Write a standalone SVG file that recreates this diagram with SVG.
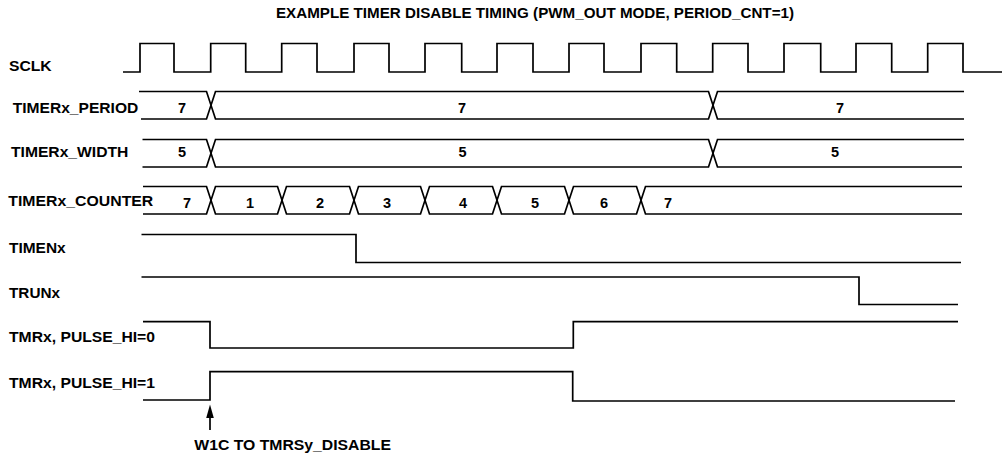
<svg xmlns="http://www.w3.org/2000/svg" width="1003" height="456" viewBox="0 0 1003 456">
<style>
.w{fill:none;stroke:#000;stroke-width:1.7;stroke-linejoin:miter}
.t{font-family:"Liberation Sans",Arial,sans-serif;font-weight:bold;font-size:14.5px;fill:#000}
.v{font-family:"Liberation Sans",Arial,sans-serif;font-weight:bold;font-size:14.5px;fill:#000;text-anchor:middle}
.ah{fill:#000}
</style>
<rect width="1003" height="456" fill="#fff"/>
<text class="t" x="535" y="18.3" text-anchor="middle" textLength="518" lengthAdjust="spacingAndGlyphs">EXAMPLE TIMER DISABLE TIMING (PWM_OUT MODE, PERIOD_CNT=1)</text>

<g id="sclk">
<text class="t" x="9" y="70.7" textLength="42.7" lengthAdjust="spacingAndGlyphs">SCLK</text>
<path class="w" d="M123,72 H140 V43.5 H174 V72 H210.7 V43.5 H245.7 V72 H281.7 V43.5 H317 V72 H354 V43.5 H389 V72 H425 V43.5 H461.7 V72 H497 V43.5 H533 V72 H569 V43.5 H604 V72 H641 V43.5 H676.7 V72 H712.7 V43.5 H748 V72 H784 V43.5 H820.7 V72 H856 V43.5 H891.7 V72 H927.7 V43.5 H963 V72 H1002"/>
</g>

<g id="timer-period">
<text class="t" x="12.7" y="112.7" textLength="125.6" lengthAdjust="spacingAndGlyphs">TIMERx_PERIOD</text>
<path class="w" d="M139,91.5 H206.5 L215.5,119 H708.5 L717.5,91.5 H964"/>
<path class="w" d="M141,119 H206.5 L215.5,91.5 H708.5 L717.5,119 H964"/>
<text class="v" x="182" y="113">7</text>
<text class="v" x="462" y="113">7</text>
<text class="v" x="840" y="113">7</text>
</g>

<g id="timer-width">
<text class="t" x="11" y="157.3" textLength="117.3" lengthAdjust="spacingAndGlyphs">TIMERx_WIDTH</text>
<path class="w" d="M142.5,139.5 H206.5 L215.5,167 H708.5 L717.5,139.5 H964"/>
<path class="w" d="M142.5,167 H206.5 L215.5,139.5 H708.5 L717.5,167 H962"/>
<text class="v" x="182" y="156.5">5</text>
<text class="v" x="462.5" y="156.5">5</text>
<text class="v" x="835" y="156.5">5</text>
</g>

<g id="timer-counter">
<text class="t" x="8.3" y="205.7" textLength="145" lengthAdjust="spacingAndGlyphs">TIMERx_COUNTER</text>
<path class="w" d="M143,186.5 H206.5 L215.5,214 H277.5 L286.5,186.5 H349.5 L358.5,214 H420.5 L429.5,186.5 H492.5 L501.5,214 H564.5 L573.5,186.5 H636.5 L645.5,214 H962"/>
<path class="w" d="M143,214 H206.5 L215.5,186.5 H277.5 L286.5,214 H349.5 L358.5,186.5 H420.5 L429.5,214 H492.5 L501.5,186.5 H564.5 L573.5,214 H636.5 L645.5,186.5 H962"/>
<text class="v" x="187" y="208">7</text>
<text class="v" x="250" y="208">1</text>
<text class="v" x="320" y="208">2</text>
<text class="v" x="387" y="208">3</text>
<text class="v" x="463" y="208">4</text>
<text class="v" x="535" y="208">5</text>
<text class="v" x="604" y="208">6</text>
<text class="v" x="668" y="208">7</text>
</g>

<g id="timenx">
<text class="t" x="9" y="252.7" textLength="56.7" lengthAdjust="spacingAndGlyphs">TIMENx</text>
<path class="w" d="M141.5,234.5 H356 V262.5 H961"/>
</g>

<g id="trunx">
<text class="t" x="9" y="297.5" textLength="51" lengthAdjust="spacingAndGlyphs">TRUNx</text>
<path class="w" d="M141.5,277 H859 V304.5 H958"/>
</g>

<g id="tmrx-pulse-hi-0">
<text class="t" x="9" y="342.3" textLength="146" lengthAdjust="spacingAndGlyphs">TMRx, PULSE_HI=0</text>
<path class="w" d="M143,321.7 H210 V348 H573.3 V321.7 H958"/>
</g>

<g id="tmrx-pulse-hi-1">
<text class="t" x="9" y="387.5" textLength="146" lengthAdjust="spacingAndGlyphs">TMRx, PULSE_HI=1</text>
<path class="w" d="M143,400 H210 V371.7 H572.7 V401 H955"/>
</g>

<g id="connectors">
<line class="w" x1="210" y1="430" x2="210" y2="415"/>
<polygon class="ah" points="210,404.5 206.2,418 213.8,418"/>
</g>

<g id="annotation">
<text class="t" x="194.3" y="450" textLength="196.7" lengthAdjust="spacingAndGlyphs">W1C TO TMRSy_DISABLE</text>
</g>
</svg>
